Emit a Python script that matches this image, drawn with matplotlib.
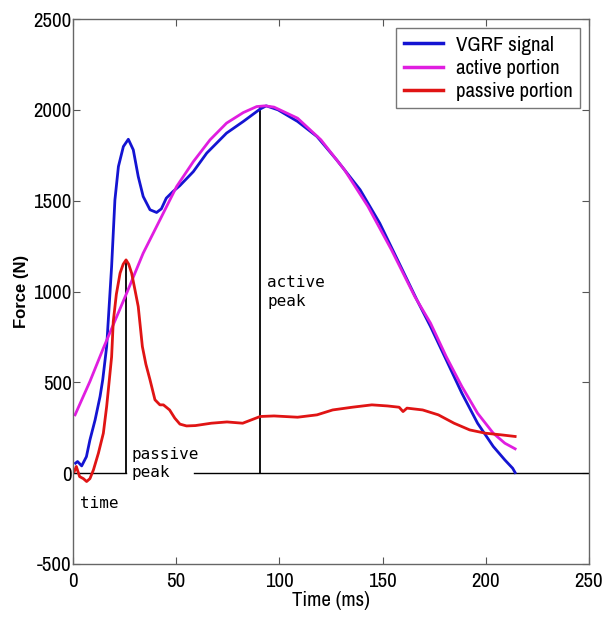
import matplotlib
matplotlib.use("Agg")
import matplotlib.pyplot as plt
from matplotlib import font_manager

# pick a condensed sans if one exists, else Liberation Sans
cond = None
for f in font_manager.fontManager.ttflist:
    n = f.name
    if ('Narrow' in n or 'Condensed' in n) and 'Mono' not in n and 'Serif' not in n:
        cond = n
        break
    if str(f.stretch) in ('condensed', 'semi-condensed', '600', '700') and 'Sans' in n and 'Mono' not in n:
        cond = n
main_font = ([cond] if cond else []) + ['Liberation Sans', 'DejaVu Sans']
plt.rcParams['font.family'] = main_font
plt.rcParams['axes.unicode_minus'] = False

# VGRF signal (blue)
vgrf_t = [1.2, 2.2, 4.2, 6.5, 8.2, 10.7, 13.1, 14.4, 16.3, 18.7, 20.3, 22.0, 24.4, 26.8,
          29.2, 31.6, 34.0, 37.3, 40.5, 42.8, 45.2, 48.4, 51.7, 58.3, 64.8, 74.4, 82.5,
          90.6, 93.6, 99.3, 108.8, 118.2, 127.7, 139.1, 148.6, 158.0, 166.6, 173.2,
          180.8, 188.4, 196.0, 203.6, 209.2, 213.0, 214.2]
vgrf_f = [55, 64, 40, 91, 183, 293, 422, 514, 697, 1137, 1504, 1688, 1798, 1838,
          1780, 1633, 1523, 1450, 1435, 1455, 1514, 1550, 1582, 1660, 1762, 1872, 1936,
          2004, 2022, 2000, 1936, 1853, 1725, 1560, 1376, 1156, 954, 807,
          624, 440, 275, 147, 73, 27, 3]

# active portion (magenta)
act_t = [1.0, 8.2, 14.7, 26.0, 34.0, 42.1, 50.2, 58.3, 66.4, 74.4, 82.5, 89.0, 93.0,
         97.4, 108.8, 120.1, 131.5, 142.9, 154.3, 165.6, 173.2, 180.8, 188.4, 196.0,
         203.6, 209.2, 214.2]
act_f = [321, 505, 688, 991, 1211, 1394, 1578, 1715, 1835, 1927, 1985, 2018, 2022,
         2015, 1954, 1835, 1670, 1468, 1229, 972, 826, 642, 477, 330,
         220, 165, 134]

# passive portion (red)
pas_t = [0.6, 1.6, 3.2, 5.0, 6.6, 8.2, 9.9, 12.3, 14.7, 16.3, 17.6, 18.7, 19.5, 21.0,
         22.8, 24.3, 25.7, 27.0, 28.4, 30.0, 31.6, 33.6, 35.3, 37.3, 39.7, 42.1, 43.8,
         46.8, 49.3, 51.8, 55.0, 59.3, 67.0, 74.6, 82.2, 90.7, 97.4, 108.8, 118.2,
         125.8, 135.3, 144.8, 152.4, 158.0, 159.9, 161.8, 169.4, 177.0, 184.6, 192.2,
         199.8, 207.4, 214.2]
pas_f = [9, 37, -19, -30, -46, -30, 18, 110, 220, 367, 514, 640, 834, 985,
         1101, 1150, 1174, 1150, 1101, 1010, 917, 697, 600, 514, 404, 376, 376,
         348, 303, 270, 260, 262, 275, 282, 275, 312, 315, 308, 321,
         348, 363, 376, 370, 363, 339, 358, 348, 321, 275, 238,
         220, 211, 202]

passive_peak_t, passive_peak_f = 25.9, 1174
active_peak_t, active_peak_f = 90.7, 2015
baseline_gap = (25.9, 58.5)

xticks = [0, 50, 100, 150, 200, 250]
yticks = [-500, 0, 500, 1000, 1500, 2000, 2500]

fig = plt.figure(figsize=(6.13, 6.17), dpi=100)
ax = fig.add_axes([0.1191, 0.0859, 0.8418, 0.8833])

# baseline and peak markers
ax.plot([0, baseline_gap[0]], [0, 0], color='black', lw=1.0)
ax.plot([baseline_gap[1], 250], [0, 0], color='black', lw=1.0)
ax.plot([passive_peak_t, passive_peak_t], [0, passive_peak_f], color='black', lw=1.3)
ax.plot([active_peak_t, active_peak_t], [0, active_peak_f], color='black', lw=1.3)

ax.plot(vgrf_t, vgrf_f, color='#1414d2', lw=2.0, label='VGRF signal')
ax.plot(act_t, act_f, color='#e01ee0', lw=2.0, label='active portion')
ax.plot(pas_t, pas_f, color='#e01414', lw=2.0, label='passive portion')

mono = ['DejaVu Sans Mono']
ax.text(28.4, 145, 'passive\npeak', family=mono, fontsize=11.5, va='top', ha='left',
        linespacing=1.3)
ax.text(94.0, 1090, 'active\npeak', family=mono, fontsize=11.5, va='top', ha='left',
        linespacing=1.3)
ax.text(3.5, -165, 'time', family=mono, fontsize=11.5, va='center', ha='left')

ax.set_xlim(0, 250)
ax.set_ylim(-500, 2500)
ax.set_xticks(xticks)
ax.set_yticks(yticks)
ax.tick_params(direction='in', length=5, width=0.8, top=True, right=True,
               labelsize=15, color='#555555')
ax.tick_params(axis='y', pad=1)
ax.tick_params(axis='x', pad=6)
for s in ax.spines.values():
    s.set_color('#666666')
    s.set_linewidth(1.0)

ax.set_xlabel('Time (ms)', fontsize=15, labelpad=0)
ax.set_ylabel('Force (N)', fontsize=12, fontweight='bold',
              family=['Liberation Sans', 'DejaVu Sans'], labelpad=3)

leg = ax.legend(loc='upper right', fontsize=15, frameon=True, fancybox=False,
                edgecolor='#555555', borderaxespad=0.45, handlelength=1.9,
                handletextpad=0.6, labelspacing=0.2, borderpad=0.35)
leg.get_frame().set_linewidth(1.0)
for h in leg.get_lines():
    h.set_linewidth(2.5)

fig.savefig('out.png', dpi=100)
